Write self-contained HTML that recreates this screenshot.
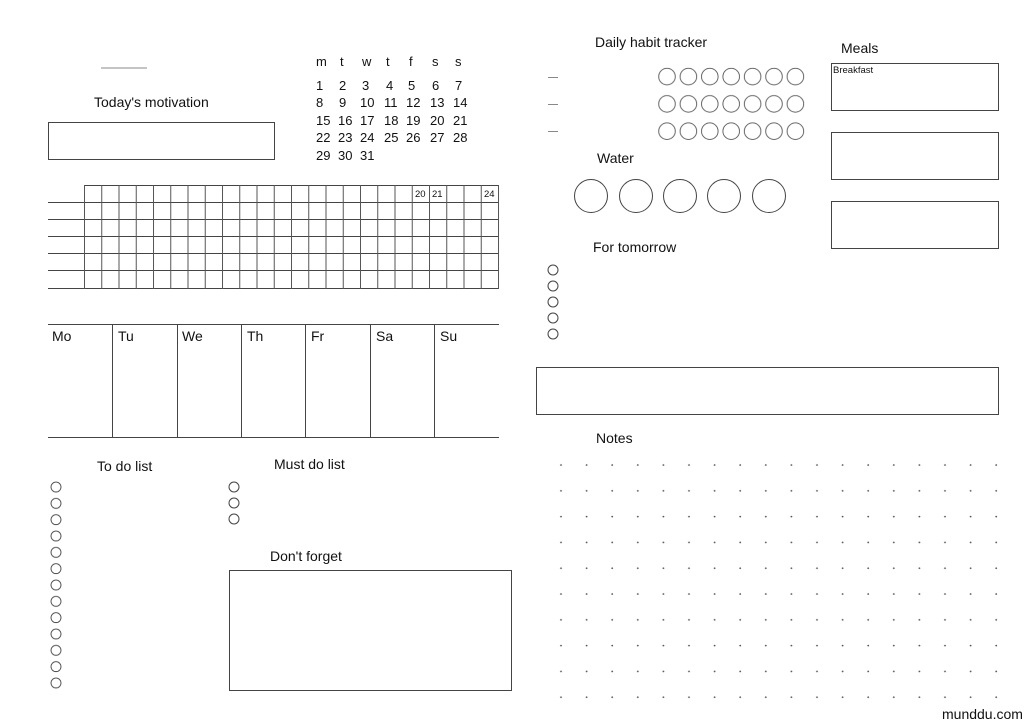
<!DOCTYPE html>
<html><head><meta charset="utf-8"><style>
html,body{margin:0;padding:0;background:#fff;}
svg{display:block;}
text{font-family:"Liberation Sans",sans-serif;fill:#111;}
</style></head><body>
<svg width="1024" height="724" viewBox="0 0 1024 724" xmlns="http://www.w3.org/2000/svg">
<defs>
<pattern id="dots" x="548" y="452" width="25.6" height="25.8" patternUnits="userSpaceOnUse"><circle cx="13" cy="13" r="0.9" fill="#555"/></pattern>
<pattern id="vgrid" x="84" y="0" width="17.25" height="10" patternUnits="userSpaceOnUse"><rect x="0" y="0" width="1" height="10" fill="#555"/></pattern>
<pattern id="todo" x="46" y="479" width="20" height="16.33" patternUnits="userSpaceOnUse"><circle cx="10" cy="8" r="5" fill="none" stroke="#444" stroke-width="0.9"/></pattern>
<pattern id="hab" x="656.3" y="63" width="21.4" height="27.3" patternUnits="userSpaceOnUse"><circle cx="10.7" cy="13.6" r="8.3" fill="none" stroke="#555" stroke-width="0.9"/></pattern>
</defs>
<g fill="none" stroke="#444" stroke-width="1">
<line x1="101" y1="68" x2="147" y2="68" stroke="#888"/>
<rect x="48.5" y="122.5" width="226" height="37"/>
<line x1="84" y1="185.5" x2="499" y2="185.5"/>
<line x1="48" y1="202.5" x2="499" y2="202.5"/>
<line x1="48" y1="219.5" x2="499" y2="219.5"/>
<line x1="48" y1="236.5" x2="499" y2="236.5"/>
<line x1="48" y1="253.5" x2="499" y2="253.5"/>
<line x1="48" y1="270.5" x2="499" y2="270.5"/>
<line x1="48" y1="288.5" x2="499" y2="288.5"/>
<line x1="48" y1="324.5" x2="499" y2="324.5"/>
<line x1="48" y1="437.5" x2="499" y2="437.5"/>
<line x1="112.5" y1="324" x2="112.5" y2="437"/>
<line x1="177.5" y1="324" x2="177.5" y2="437"/>
<line x1="241.5" y1="324" x2="241.5" y2="437"/>
<line x1="305.5" y1="324" x2="305.5" y2="437"/>
<line x1="370.5" y1="324" x2="370.5" y2="437"/>
<line x1="434.5" y1="324" x2="434.5" y2="437"/>
<rect x="229.5" y="570.5" width="282" height="120"/>
<rect x="536.5" y="367.5" width="462" height="47"/>
<rect x="831.5" y="63.5" width="167" height="47"/>
<rect x="831.5" y="132.5" width="167" height="47"/>
<rect x="831.5" y="201.5" width="167" height="47"/>
<line x1="548" y1="77.5" x2="558" y2="77.5" stroke="#888"/>
<line x1="548" y1="104.5" x2="558" y2="104.5" stroke="#888"/>
<line x1="548" y1="131.5" x2="558" y2="131.5" stroke="#888"/>
<circle cx="591" cy="196" r="16.5"/>
<circle cx="636" cy="196" r="16.5"/>
<circle cx="680" cy="196" r="16.5"/>
<circle cx="724" cy="196" r="16.5"/>
<circle cx="769" cy="196" r="16.5"/>
<circle cx="234" cy="487" r="5"/>
<circle cx="234" cy="503" r="5"/>
<circle cx="234" cy="519" r="5"/>
<circle cx="553" cy="270" r="5"/>
<circle cx="553" cy="286" r="5"/>
<circle cx="553" cy="302" r="5"/>
<circle cx="553" cy="318" r="5"/>
<circle cx="553" cy="334" r="5"/>
</g>
<rect x="84" y="185" width="416" height="104" fill="url(#vgrid)"/>
<rect x="46" y="479" width="20" height="212" fill="url(#todo)"/>
<rect x="656" y="63" width="150" height="81" fill="url(#hab)"/>
<rect x="548" y="452" width="461" height="258" fill="url(#dots)"/>
<g font-size="14">
<text x="94" y="107">Today's motivation</text>
<text x="595" y="47">Daily habit tracker</text>
<text x="841" y="53">Meals</text>
<text x="597" y="163">Water</text>
<text x="593" y="252">For tomorrow</text>
<text x="596" y="443">Notes</text>
<text x="97" y="471">To do list</text>
<text x="274" y="469">Must do list</text>
<text x="270" y="561">Don't forget</text>
<text x="52" y="341">Mo</text><text x="118" y="341">Tu</text><text x="182" y="341">We</text><text x="247" y="341">Th</text><text x="311" y="341">Fr</text><text x="376" y="341">Sa</text><text x="440" y="341">Su</text>
</g>
<g font-size="13">
<text x="316" y="66">m</text><text x="340" y="66">t</text><text x="362" y="66">w</text><text x="386" y="66">t</text><text x="409" y="66">f</text><text x="432" y="66">s</text><text x="455" y="66">s</text>
<text x="316" y="90">1</text><text x="339" y="90">2</text><text x="362" y="90">3</text><text x="386" y="90">4</text><text x="408" y="90">5</text><text x="432" y="90">6</text><text x="455" y="90">7</text>
<text x="316" y="107">8</text><text x="339" y="107">9</text><text x="360" y="107">10</text><text x="384" y="107">11</text><text x="406" y="107">12</text><text x="430" y="107">13</text><text x="453" y="107">14</text>
<text x="316" y="125">15</text><text x="338" y="125">16</text><text x="360" y="125">17</text><text x="384" y="125">18</text><text x="406" y="125">19</text><text x="430" y="125">20</text><text x="453" y="125">21</text>
<text x="316" y="142">22</text><text x="338" y="142">23</text><text x="360" y="142">24</text><text x="384" y="142">25</text><text x="406" y="142">26</text><text x="430" y="142">27</text><text x="453" y="142">28</text>
<text x="316" y="160">29</text><text x="338" y="160">30</text><text x="360" y="160">31</text>
<text x="942" y="719" font-size="14">munddu.com</text>
</g>
<g font-size="9.5">
<text x="415" y="197">20</text><text x="432" y="197">21</text><text x="484" y="197">24</text>
<text x="833" y="73">Breakfast</text>
</g>
</svg>
</body></html>
